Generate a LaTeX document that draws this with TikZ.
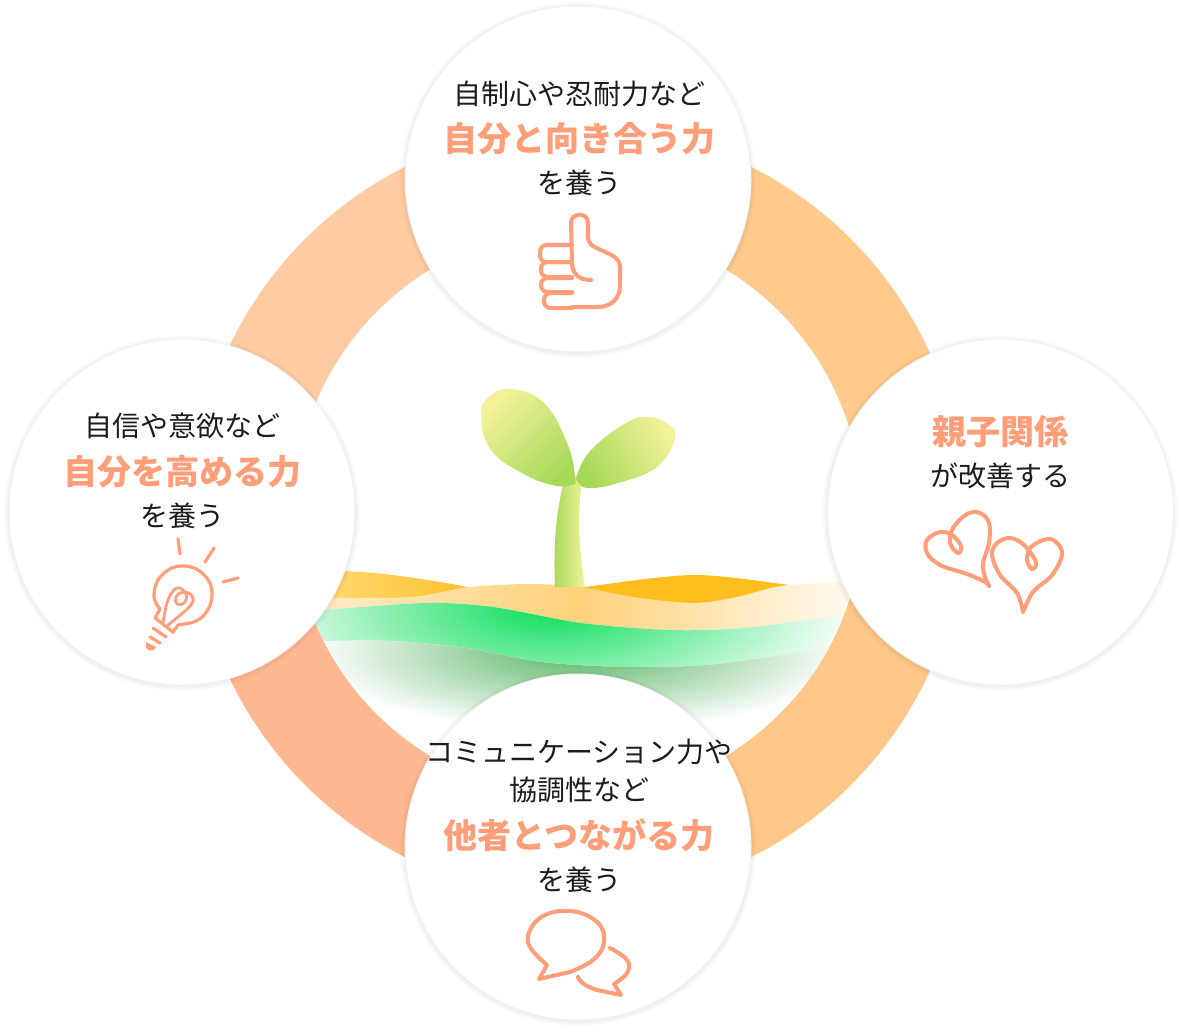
\documentclass[tikz,border=0pt]{standalone}
\usepackage{fontspec}
\setmainfont{Noto Sans CJK JP}
\usetikzlibrary{positioning}
\definecolor{salmon}{HTML}{FF9E78}
\definecolor{inktext}{HTML}{1C1C1C}
\definecolor{ringtl}{HTML}{FFCBA0}
\definecolor{ringtr}{HTML}{FFCA8C}
\definecolor{ringbl}{HTML}{FFB990}
\definecolor{ringbr}{HTML}{FFC888}
\definecolor{sandback}{HTML}{FFBE1E}
\definecolor{sandpale}{HTML}{FFDC7C}
\definecolor{sandmid}{HTML}{FFD27A}
\definecolor{grassmid}{HTML}{08DE58}
\definecolor{soilmid}{HTML}{56B462}
\definecolor{leafpale}{HTML}{F3F29A}
\definecolor{leafdeep}{HTML}{A6D958}
\newcommand{\wavesand}{plot[smooth] coordinates {(300,599) (333,598) (411,597) (470,587) (530,584) (581,587) (633,597) (693,603) (737,597) (781,586) (844,582) (875,581)} -- (875,760) -- (300,760) -- cycle}
\newcommand{\wavegrass}{plot[smooth] coordinates {(300,612) (322,610) (426,603) (493,607) (581,623) (670,630) (744,628) (837,616) (875,612)} -- (875,760) -- (300,760) -- cycle}
\newcommand{\wavesoil}{plot[smooth] coordinates {(300,641) (330,641) (393,641) (467,648) (541,662) (626,667) (707,665) (781,655) (841,643) (875,635)} -- (875,760) -- (300,760) -- cycle}
\tikzset{
  disc/.style={circle,fill=white,draw=black!5,line width=1pt,minimum size=346pt,inner sep=0pt},
  plain/.style={font=\fontsize{28}{33}\selectfont,text=inktext,inner sep=0pt,text height=24.6pt,text depth=3.4pt},
  strong/.style={font=\fontsize{34}{40}\selectfont\bfseries,text=salmon,inner sep=0pt,text height=29.9pt,text depth=4.1pt},
  icon/.style={draw=salmon,line width=4pt,line join=round,line cap=round}
}
\begin{document}
\begin{tikzpicture}[x=1pt,y=-1pt,on grid]
  \useasboundingbox (0,0) rectangle (1182,1032);
  % ring
  \foreach \qx/\qy/\qc in {0/0/ringtl,1182/0/ringtr,0/1032/ringbl,1182/1032/ringbr}{
    \begin{scope}
      \clip (578,512) rectangle (\qx,\qy);
      \fill[\qc,even odd rule] (578,512) circle (386) (578,512) circle (284);
    \end{scope}
  }
  % ground
  \begin{scope}
    \clip (578,512) circle (285);
    \shade[left color=sandpale,right color=sandback]
      plot[smooth] coordinates {(300,570) (344,571) (393,575) (467,587) (500,600)} -- (500,640) -- (300,640) -- cycle;
    \fill[sandback] plot[smooth] coordinates {(560,592) (585,587) (693,575) (789,585) (830,592)} -- (830,640) -- (560,640) -- cycle;
    \begin{scope}
      \clip \wavesand;
      \shade[left color=sandmid!40!white,right color=sandmid!8!white,middle color=sandmid] (300,570) rectangle (860,700);
    \end{scope}
    \fill[white] \wavegrass;
    \begin{scope}
      \clip \wavegrass;
      \shade[inner color=grassmid,outer color=white] (550,605) ellipse (310 and 130);
    \end{scope}
    \fill[white] \wavesoil;
    \begin{scope}
      \clip \wavesoil;
      \shade[inner color=soilmid,outer color=white] (580,650) ellipse (268 and 82);
    \end{scope}
  \end{scope}
  % sprout
  \shade[left color=leafdeep,right color=leafpale]
    (563,485) .. controls (557,510) and (553,540) .. (555,587) -- (585,587)
    .. controls (580,555) and (577,525) .. (581,488) -- (576,477) -- cycle;
  \shade[top color=leafpale,bottom color=leafdeep,shading angle=45]
    plot[smooth cycle,tension=.75] coordinates {(575,477) (567,443) (544,403) (511,389) (488,398) (481,417) (491,450) (522,473) (552,485) (572,485)};
  \shade[top color=leafpale,bottom color=leafdeep,shading angle=-60]
    plot[smooth cycle,tension=.75] coordinates {(578,472) (593,448) (626,423) (648,417) (668,424) (675,438) (657,467) (618,483) (589,488) (578,482)};
  % circles
  \foreach \cx/\cy in {578/179,1000/512,578/847,182/512}{
    \foreach \rr in {174,175,176,177,178}{
      \fill[black,opacity=.012] (\cx,\cy+1) circle (\rr);
    }
  }
  \node[disc] (top) at (578,179) {};
  \node[disc] (right) at (1000.5,512) {};
  \node[disc] (bottom) at (578,847) {};
  \node[disc] (left) at (182,512) {};
  % top text
  \node[plain] (topa) at (579,94) {自制心や忍耐力など};
  \node[strong,below=45pt of topa] (topb) {自分と向き合う力};
  \node[plain,below=44pt of topb] (topc) {を養う};
  % right text
  \node[strong] (righta) at (1000.5,432) {親子関係};
  \node[plain,below=44pt of righta] (rightb) {が改善する};
  % bottom text
  \node[plain] (bottoma) at (579,752) {コミュニケーション力や};
  \node[plain,below=38pt of bottoma] (bottomb) {協調性など};
  \node[strong,below=46pt of bottomb] (bottomc) {他者とつながる力};
  \node[plain,below=44pt of bottomc] (bottomd) {を養う};
  % left text
  \node[plain] (lefta) at (182.5,426) {自信や意欲など};
  \node[strong,below=46pt of lefta] (leftb) {自分を高める力};
  \node[plain,below=44pt of leftb] (leftc) {を養う};
  % thumb
  \draw[icon] (572,307) -- (597,307) .. controls (612,307) and (620,298) .. (620,285)
    -- (620,268) .. controls (620,258) and (612,255) .. (603,251)
    .. controls (592,246) and (588,245) .. (588,235) -- (588,223)
    .. controls (588,212) and (571,212) .. (571,223) -- (572,262)
    .. controls (572,275) and (580,280) .. (591,280);
  \foreach \fy/\fh/\fx in {245/17/540,262/15/541,278/14/541,293/15/544}{
    \draw[icon,rounded corners=6.5pt] (572,\fy) -- (\fx,\fy) -- (\fx,\fy+\fh) -- (572,\fy+\fh);
  }
  % bulb
  \draw[icon,line width=3.2pt] (178,539) -- (180,554) (214,548) -- (205,562) (238,578) -- (223,582);
  \draw[icon,line width=3.2pt] (155,618) -- (160,609)
    plot[smooth,tension=.8] coordinates {(160,609) (154,595) (162,575) (183,566) (204,575) (212,595) (204,615) (190,623)}
    -- (178,625) -- (173,632) -- (155,618);
  \draw[icon,line width=2.8pt] plot[smooth,tension=.7] coordinates {(163,623) (168,600) (177,588) (186,594) (184,603) (177,604) (176,597) (183,592) (192,596) (190,606) (168,625)};
  \draw[icon,line width=3.2pt] (153,628) -- (166,637) (150,637) -- (160,643);
  \fill[salmon] (146,642) .. controls (144,652) and (153,653) .. (156,647) -- cycle;
  % hearts
  \draw[icon] plot[smooth,tension=.6] coordinates {(989,586) (985,582) (967,574) (940,565) (927,553) (927,540) (940,532) (952,535) (961,546) (958,553) (950,543) (953,528) (967,514) (980,513) (989,523) (989,543) (983,563) (985,577) (989,586)};
  \draw[icon] plot[smooth,tension=.6] coordinates {(1023,612) (1017,593) (1000,575) (992,555) (997,543) (1010,538) (1024,545) (1036,562) (1032,569) (1027,560) (1031,547) (1047,539) (1057,543) (1062,555) (1052,575) (1033,592) (1024,610)};
  % speech
  \draw[icon] (547,965) plot[smooth,tension=.7] coordinates {(547,965) (528,942) (540,918) (570,911) (597,922) (604,942) (593,960) (570,972)} -- (539,979) -- cycle;
  \draw[icon] plot[smooth,tension=.7] coordinates {(610,948) (627,960) (627,973) (614,984)} -- (621,995) -- (597,990)
    .. controls (588,987) and (581,984) .. (578,977);
\end{tikzpicture}
\end{document}
